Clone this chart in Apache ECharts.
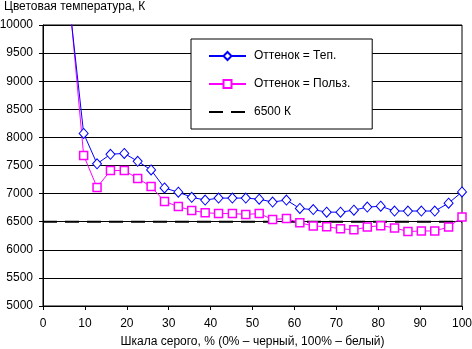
<!DOCTYPE html>
<html><head><meta charset="utf-8">
<script src="https://cdn.jsdelivr.net/npm/echarts@6/dist/echarts.min.js"></script>
<style>html,body{margin:0;padding:0;background:#fff}#c{width:472px;height:349px}</style>
</head><body><div id="c"></div>
<script>
const grayLevels = [6.5, 9.7, 12.9, 16.1, 19.4, 22.6, 25.8, 29.0, 32.3, 35.5, 38.7, 41.9, 45.2, 48.4, 51.6, 54.8, 58.1, 61.3, 64.5, 67.7, 71.0, 74.2, 77.4, 80.6, 83.9, 87.1, 90.3, 93.5, 96.8, 100];
const tempWarm = [10250, 8070, 7530, 7700, 7715, 7575, 7420, 7100, 7025, 6935, 6885, 6920, 6920, 6920, 6900, 6850, 6885, 6735, 6715, 6670, 6670, 6705, 6760, 6775, 6690, 6690, 6690, 6690, 6830, 7030];
const tempUser = [10300, 7680, 7110, 7410, 7410, 7270, 7125, 6860, 6770, 6700, 6660, 6645, 6645, 6630, 6645, 6540, 6555, 6480, 6425, 6410, 6375, 6355, 6405, 6430, 6390, 6325, 6335, 6335, 6405, 6585];
const refX = [0, 100];
const refY = [6500, 6500];
const seriesNames = ['Оттенок = Теп.', 'Оттенок = Польз.', '6500 К'];
const yTitle = 'Цветовая температура, К';
const xTitle = 'Шкала серого, % (0% – черный, 100% – белый)';

const font = 'Arial, "Liberation Sans", sans-serif';
const chart = echarts.init(document.getElementById('c'), null, {renderer: 'canvas'});
const pairs = (xs, ys) => xs.map((x, i) => [x, ys[i]]);
chart.setOption({
  animation: false,
  backgroundColor: '#fff',
  textStyle: {fontFamily: font, color: '#000', fontSize: 12},
  title: {text: yTitle, left: 4, top: 1, padding: 0,
    textStyle: {fontFamily: font, fontSize: 12, fontWeight: 'normal', color: '#000'}},
  grid: {left: 43, right: 10, top: 25, bottom: 43, show: true, borderColor: '#000', borderWidth: 1,
    containLabel: false, outerBoundsMode: 'none'},
  xAxis: {type: 'value', min: 0, max: 100, interval: 10,
    name: xTitle, nameLocation: 'middle', nameGap: 30,
    nameTextStyle: {fontFamily: font, fontSize: 12, color: '#000'},
    axisLine: {lineStyle: {color: '#000', width: 1}},
    axisTick: {show: true, length: 4, lineStyle: {color: '#000'}},
    axisLabel: {color: '#000', fontFamily: font, fontSize: 12, margin: 12},
    splitLine: {show: false}},
  yAxis: {type: 'value', min: 5000, max: 10000, interval: 500,
    axisLine: {show: true, lineStyle: {color: '#000', width: 1}},
    axisTick: {show: true, length: 4, lineStyle: {color: '#000'}},
    axisLabel: {color: '#000', fontFamily: font, fontSize: 12, margin: 10, formatter: v => String(v)},
    splitLine: {show: true, lineStyle: {color: '#000', width: 1}}},
  legend: {orient: 'vertical', left: 191, top: 39,
    backgroundColor: '#fff', borderColor: '#000', borderWidth: 1,
    padding: [11, 22, 11, 17], itemGap: 16, itemWidth: 37, itemHeight: 10,
    textStyle: {fontFamily: font, fontSize: 12, color: '#000', padding: [0, 0, 0, 3]},
    data: [
      {name: seriesNames[0]},
      {name: seriesNames[1]},
      {name: seriesNames[2], itemStyle: {opacity: 0}, lineStyle: {type: [14, 8], width: 2, color: '#000'}}
    ]},
  series: [
    {name: seriesNames[0], type: 'line', data: pairs(grayLevels, tempWarm), clip: true,
      symbol: 'diamond', symbolSize: [9, 10], showAllSymbol: true,
      lineStyle: {color: '#0000ff', width: 1},
      itemStyle: {color: '#fff', borderColor: '#0000ff', borderWidth: 1}, z: 4},
    {name: seriesNames[1], type: 'line', data: pairs(grayLevels, tempUser), clip: true,
      symbol: 'rect', symbolSize: 8, showAllSymbol: true,
      lineStyle: {color: '#ff00ff', width: 1},
      itemStyle: {color: '#fff', borderColor: '#ff00ff', borderWidth: 1.5}, z: 3},
    {name: seriesNames[2], type: 'line', data: pairs(refX, refY), symbol: 'none',
      lineStyle: {color: '#000', width: 2, type: [14, 8]},
      itemStyle: {color: '#000'}, z: 2}
  ]
});
</script></body></html>
